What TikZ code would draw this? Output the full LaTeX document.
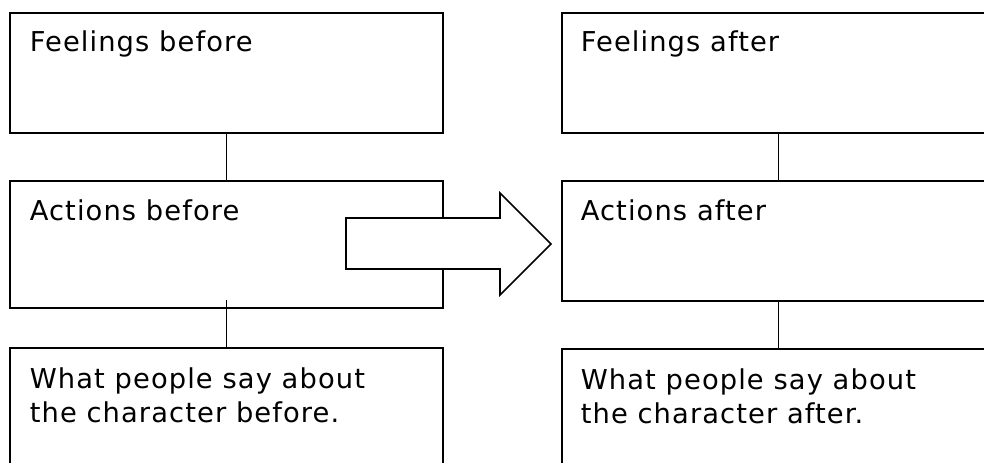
\documentclass[tikz,border=0pt]{standalone}
\usepackage{fontspec}
\setmainfont[LetterSpace=4]{DejaVu Sans}

\begin{document}
\begin{tikzpicture}[x=0.75pt,y=-0.75pt,line width=1.2pt,
  box/.style={draw,rectangle,anchor=north west,inner sep=0pt,outer sep=0pt,minimum width=324.75pt,minimum height=90pt},
  txt/.style={anchor=base west,inner sep=0pt,font=\fontsize{20.5}{25.5}\selectfont}]

\useasboundingbox (0,0) rectangle (984,463);
\clip (0,0) rectangle (984,463);

\node [box] (fb) at (10,13) {};
\node [box,minimum height=95.25pt] (ab) at (10,181) {};
\node [box] (wb) at (10,348) {};
\node [box] (fa) at (562,13) {};
\node [box] (aa) at (562,181) {};
\node [box] (wa) at (562,349) {};

\node [txt] (fbt) at ([shift={(19,39)}]fb.north west) {Feelings before};
\node [txt] (abt) at ([shift={(19,40)}]ab.north west) {Actions before};
\node [txt,align=left,anchor=north west] (wbt) at ([shift={(19,19)}]wb.north west) {What people say about\\the character before.};
\node [txt] (fat) at ([shift={(18,39)}]fa.north west) {Feelings after};
\node [txt] (aat) at ([shift={(18,40)}]aa.north west) {Actions after};
\node [txt,align=left,anchor=north west] (wat) at ([shift={(18,19)}]wa.north west) {What people say about\\the character after.};

\draw (fb.south) -- (ab.north);
\draw ([yshift=6pt]ab.south) -- (wb.north);
\draw (fa.south) -- (aa.north);
\draw (aa.south) -- (wa.north);

\draw [fill=white] (346,218) -- (500,218) -- (500,193) -- (551,244) -- (500,295) -- (500,269) -- (346,269) -- cycle;

\end{tikzpicture}
\end{document}
